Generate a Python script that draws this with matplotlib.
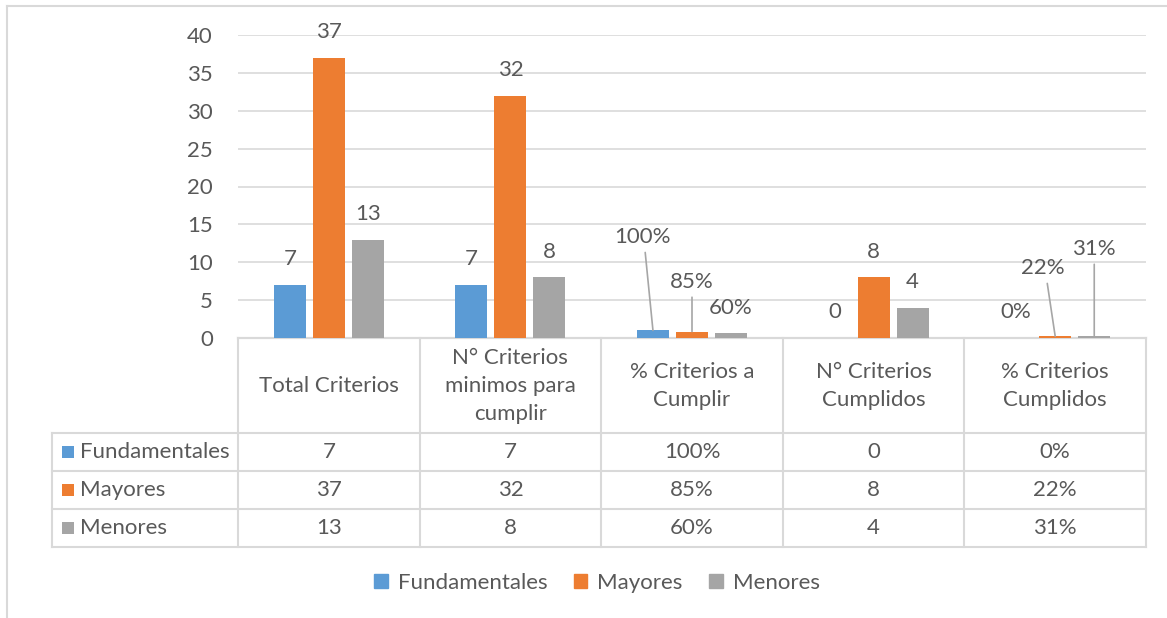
import matplotlib.pyplot as plt
import matplotlib.transforms as mtransforms
from matplotlib.patches import Patch, Rectangle
from matplotlib.lines import Line2D
import numpy as np

plt.rcParams['font.family'] = ['Lato', 'DejaVu Sans']

# data
categories = ["Total Criterios", "N° Criterios\nminimos para\ncumplir", "% Criterios a\nCumplir",
              "N° Criterios\nCumplidos", "% Criterios\nCumplidos"]
is_pct = [False, False, True, False, True]
series_names = ["Fundamentales", "Mayores", "Menores"]
fundamentales = [7, 7, 1.00, 0, 0.00]
mayores = [37, 32, 0.85, 8, 0.22]
menores = [13, 8, 0.60, 4, 0.31]
values = [fundamentales, mayores, menores]
colors = ["#5B9BD5", "#ED7D31", "#A5A5A5"]

TXT = "#595959"
GRID = "#D9D9D9"
FS = 16

W, H = 1167, 618
fig = plt.figure(figsize=(W / 100, H / 100), dpi=100)
ax = fig.add_axes([238 / W, 280 / H, 908 / W, 303 / H])

def fmt(v, pct):
    return f"{v:.0%}" if pct else f"{v:g}"

x = np.arange(len(categories))
width = 0.176
step = 0.215
for i, (name, vals, c) in enumerate(zip(series_names, values, colors)):
    ax.bar(x + (i - 1) * step, vals, width=width, color=c, label=name, zorder=3)

# data labels (a few were moved by hand with leader lines in the original)
moved = {(0, 2): (-0.06, 13.3), (1, 2): (0.0, 7.4), (1, 4): (-0.066, 9.2), (2, 4): (0.0, 11.75)}
for i, vals in enumerate(values):
    for j, v in enumerate(vals):
        bx = x[j] + (i - 1) * step
        label = fmt(v, is_pct[j])
        if (i, j) in moved:
            dx, ly = moved[(i, j)]
            ax.text(bx + dx, ly, label, ha='center', va='center', fontsize=FS, color=TXT, zorder=4)
            ax.annotate("", xy=(bx, v), xytext=(bx + dx * 0.85, ly),
                        textcoords='data',
                        arrowprops=dict(arrowstyle='-', color="#A6A6A6", lw=1.2,
                                        shrinkA=11, shrinkB=0), zorder=4)
        else:
            ax.annotate(label, (bx, v), xytext=(0, 18.5), textcoords='offset points',
                        ha='center', va='center', fontsize=FS, color=TXT, zorder=4)

ax.set_xlim(-0.5, len(categories) - 0.5)
ax.set_ylim(0, 40)
ax.set_yticks(range(0, 41, 5))
ax.tick_params(axis='y', length=0, pad=18, labelsize=FS, labelcolor=TXT)
ax.set_xticks([])
ax.grid(axis='y', color=GRID, lw=1.2, zorder=0)
for s in ['top', 'right', 'left']:
    ax.spines[s].set_visible(False)
ax.spines['bottom'].set_color(GRID)
ax.spines['bottom'].set_linewidth(1.5)

# data table under the axis
trans = mtransforms.blended_transform_factory(ax.transData, ax.transAxes)
ppx = 303.0  # axes height in px
row_edges = [0, -95 / ppx, -133 / ppx, -171 / ppx, -209 / ppx]
left_x = -0.5 - 186 / 181.6
right_x = len(categories) - 0.5
lkw = dict(color=GRID, lw=1.5, transform=trans, clip_on=False, zorder=2)
for k, ye in enumerate(row_edges):
    x0 = -0.5 if k == 0 else left_x
    ax.add_line(Line2D([x0, right_x], [ye, ye], **lkw))
for b in np.arange(len(categories) + 1) - 0.5:
    ax.add_line(Line2D([b, b], [0, row_edges[-1]], **lkw))
ax.add_line(Line2D([left_x, left_x], [row_edges[1], row_edges[-1]], **lkw))

for j, cat in enumerate(categories):
    ax.text(x[j], (row_edges[0] + row_edges[1]) / 2, cat, transform=trans, ha='center', va='center',
            fontsize=FS, color=TXT, linespacing=1.5)
sq_w = 12 / 181.6
sq_h = 12 / ppx
for i, (name, vals, c) in enumerate(zip(series_names, values, colors)):
    yc = (row_edges[i + 1] + row_edges[i + 2]) / 2
    ax.add_patch(Rectangle((left_x + 10 / 181.6, yc - sq_h / 2), sq_w, sq_h, facecolor=c,
                           edgecolor='none', transform=trans, clip_on=False))
    ax.text(left_x + 28 / 181.6, yc, name, transform=trans, ha='left', va='center', fontsize=FS, color=TXT)
    for j, v in enumerate(vals):
        ax.text(x[j], yc, fmt(v, is_pct[j]), transform=trans, ha='center', va='center',
                fontsize=FS, color=TXT)

# legend
handles = [Patch(color=c) for c in colors]
fig.legend(handles, series_names, loc='center', bbox_to_anchor=(597 / W, 1 - 583 / H), ncol=3,
           frameon=False, fontsize=FS, labelcolor=TXT, handlelength=0.6, handleheight=0.6,
           handletextpad=0.45, columnspacing=1.2)

# chart area border (cropped on right and bottom)
fig.add_artist(Line2D([7 / W, 1], [1 - 6 / H, 1 - 6 / H], color=GRID, lw=1.5))
fig.add_artist(Line2D([7 / W, 7 / W], [0, 1 - 6 / H], color=GRID, lw=1.5))

fig.savefig("out.png", dpi=100)
